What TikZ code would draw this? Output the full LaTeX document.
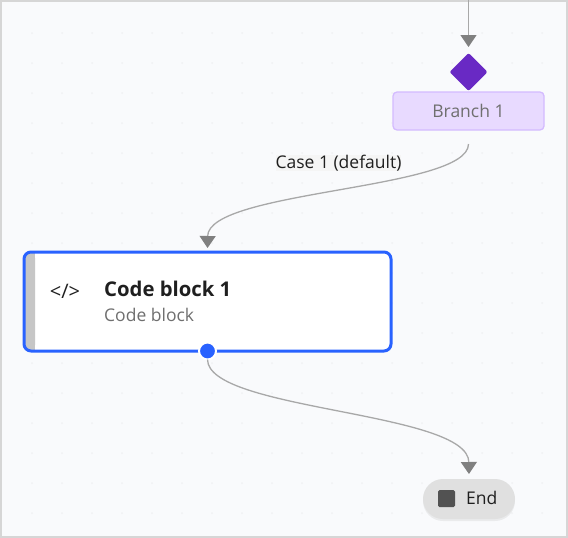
\documentclass[tikz,border=0pt]{standalone}
\usepackage{fontspec}
\setmainfont{Open Sans}
\usetikzlibrary{shapes.geometric}
\usetikzlibrary{arrows.meta}
\usetikzlibrary{positioning}
\usetikzlibrary{shadows}
\definecolor{canvasbg}{HTML}{F9FAFC}
\definecolor{canvasdot}{HTML}{F0F1F3}
\definecolor{canvasline}{HTML}{D6D6D6}
\definecolor{wirecol}{HTML}{A8A8A8}
\definecolor{tipcol}{HTML}{808080}
\definecolor{selblue}{HTML}{2962FF}
\definecolor{branchfill}{HTML}{E8DAFF}
\definecolor{branchline}{HTML}{D4BBFF}
\definecolor{branchmark}{HTML}{6929C4}
\definecolor{barcol}{HTML}{C6C6C6}
\definecolor{inkdark}{HTML}{1F1F1F}
\definecolor{inkgrey}{HTML}{6F6F6F}
\definecolor{endfill}{HTML}{E0E0E0}
\definecolor{stopcol}{HTML}{525252}
\tikzset{
  wire/.style={draw=wirecol,line width=1.3pt,-{Triangle[length=12pt,width=16pt,color=tipcol]}},
  branchbox/.style={rectangle,rounded corners=4pt,minimum width=151pt,minimum height=38pt,inner sep=0pt,outer sep=0pt,fill=branchfill,draw=branchline,line width=1.3pt,text=inkgrey,font=\fontsize{17.5}{20}\selectfont},
  branchmark/.style={diamond,rounded corners=2pt,minimum size=38pt,inner sep=0pt,outer sep=0pt,fill=branchmark},
  codebox/.style={rectangle,minimum width=367pt,minimum height=99pt,inner sep=0pt,outer sep=0pt,fill=white,rounded corners=7pt},
  portdot/.style={circle,minimum size=17pt,inner sep=0pt,outer sep=0pt,fill=selblue,draw=white,line width=2pt},
  endpill/.style={rectangle,rounded corners=20pt,minimum width=92pt,minimum height=40pt,inner sep=0pt,outer sep=0pt,fill=endfill,drop shadow={opacity=.12,shadow xshift=0pt,shadow yshift=-2pt}},
  lbl/.style={inner sep=0pt,font=\fontsize{17.5}{20}\selectfont}
}
\begin{document}
\begin{tikzpicture}[x=1pt,y=-1pt]
\useasboundingbox (0,0) rectangle (568,538);
\draw[fill=canvasbg,draw=canvasline,line width=2pt] (1,1) rectangle (567,537);
\foreach \i in {32,62,...,542}
  \foreach \j in {33,63,...,513}
    \fill[canvasdot] (\i,\j) circle (1);

\coordinate (top1) at (468.5,0);
\node (mark1) [branchmark] at (468.5,72) {};
\node (branch1) [branchbox] at (468.5,111) {Branch 1};
\node (code1) [codebox] at (207.5,301.5) {};
\fill[barcol,rounded corners=6pt] (code1.north west) -- ++(11,0) -- ++(0,99) -- ++(-11,0) -- cycle;
\fill[barcol] (29,252) rectangle (35,351);
\draw[selblue,line width=3pt,rounded corners=7pt] (code1.north west) rectangle (code1.south east);
\node (port1) [portdot] at (code1.south) {};
\node (end1) [endpill] at (469,499) {};
\node (stop1) [fill=stopcol,rounded corners=1.5pt,minimum size=17pt,inner sep=0pt] at (446.5,498.5) {};

\node (icon1) [lbl,text=inkdark,font=\fontsize{20}{20}\selectfont] at (65,291) {</>};
\node (title1) [lbl,anchor=west,text=inkdark,font=\bfseries\fontsize{20.3}{22}\selectfont] at (104,289) {Code block 1};
\node (sub1) [lbl,anchor=west,text=inkgrey] at (104,315) {Code block};
\node (endlbl) [lbl,anchor=west,text=inkdark] at (466,498) {End};
\node (case1) [lbl,text=inkdark,fill=black!4] at (338.5,163) {Case 1 (default)};

\draw[wire,shorten >=6pt] (top1) -- (mark1.north);
\draw[wire,shorten <=14pt,shorten >=4pt] (branch1.south) .. controls (468.5,190) and (208,190) .. (code1.north);
\draw[wire,shorten >=5pt] (port1.south) .. controls (208,411) and (468.5,411) .. (end1.north);
\end{tikzpicture}
\end{document}
